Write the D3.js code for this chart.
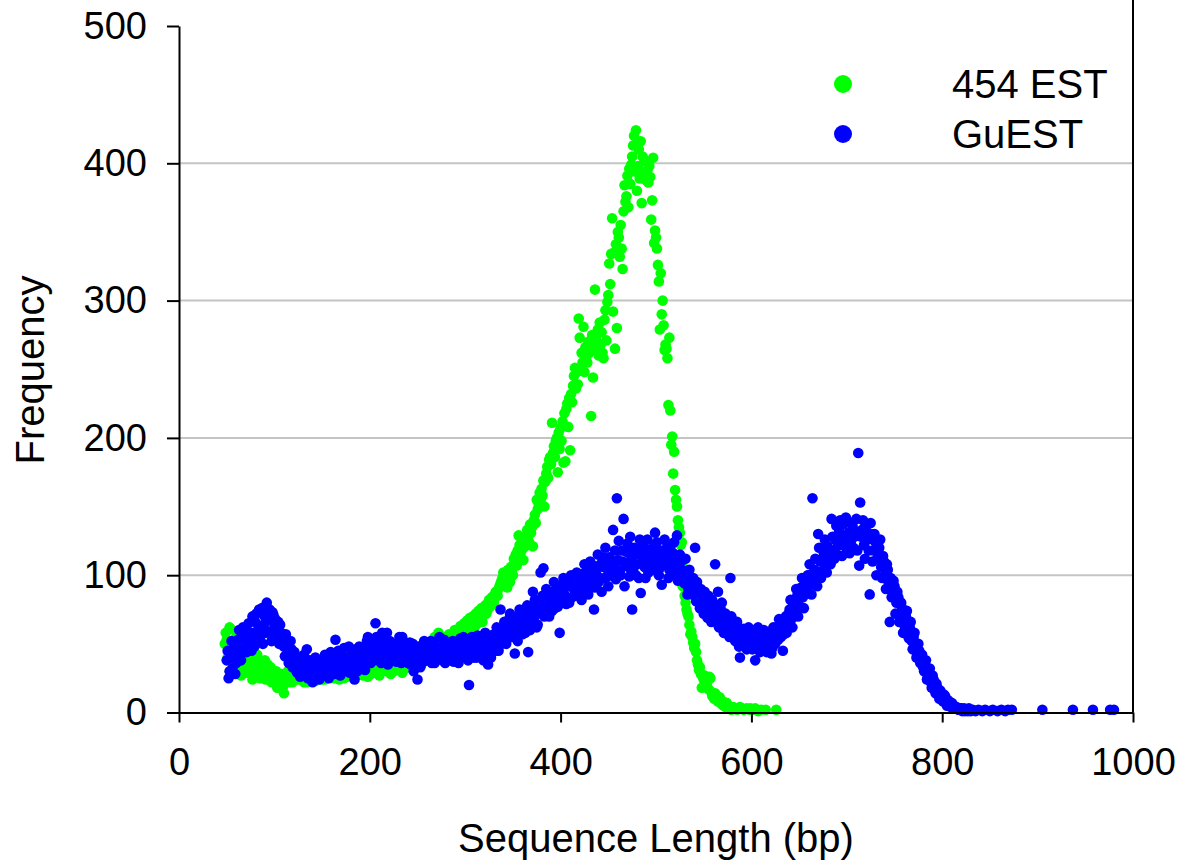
<!DOCTYPE html>
<html>
<head>
<meta charset="utf-8">
<style>
    body { margin: 0; background: #fff; }
    svg { display: block; font-family: 'Liberation Sans', Arial, sans-serif; }
</style>
</head>
<body>
<svg width="1183" height="863"></svg>

<script src="https://d3js.org/d3.v7.min.js"></script>
<script>
    // [sequence length (bp), frequency]
    const est454 = [
        [48,50],[50,53],[52,45],[54,61],[56,42],[58,38],[60,55],[62,36],[64,48],[66,33],[68,40],[70,30],[72,44],[74,35],[76,28],[78,38],
        [80,32],[82,42],[84,30],[86,36],[88,27],[90,38],[92,31],[94,25],[96,33],[98,28],[100,23],[102,30],[104,26],[106,20],[108,28],
        [110,14],[112,24],[114,30],[116,22],[118,27],[120,33],[122,25],[124,29],[126,35],[128,24],[130,31],[132,27],[134,22],[136,34],
        [138,28],[140,25],[142,32],[144,36],[146,26],[148,30],[150,24],[152,33],[154,28],[156,38],[158,27],[160,31],[162,25],[164,35],
        [166,29],[168,24],[170,33],[172,28],[174,36],[176,26],[178,31],[180,29],[182,37],[184,27],[186,32],[188,38],[190,28],[192,34],
        [194,30],[196,36],[198,26],[200,33],[202,38],[204,29],[206,35],[208,31],[210,27],[212,37],[214,32],[216,40],[218,30],[220,35],
        [222,28],[224,38],[226,33],[228,42],[230,31],[232,37],[234,29],[236,40],[238,35],[240,44],[242,33],[244,39],[246,36],[248,45],
        [250,38],[252,42],[254,35],[256,47],[258,40],[260,44],[262,38],[264,49],[266,42],[268,55],[270,46],[272,58],[274,43],[276,50],
        [278,45],[280,52],[282,47],[284,55],[286,50],[288,48],[290,57],[292,53],[294,60],[296,55],[298,62],[300,58],[302,67],[304,60],
        [306,64],[308,70],[310,62],[312,68],[314,74],[316,70],[318,66],[320,75],[322,72],[324,80],[326,77],[328,84],[330,80],[332,88],
        [334,85],[336,92],[338,96],
        [49,58],[51,40],[53,62],[55,48],[57,35],[59,44],[61,30],[63,42],[65,27],[67,36],[69,45],[71,29],[73,38],[75,32],[77,24],[79,35],
        [81,27],[83,38],[85,25],[87,33],[89,30],[91,24],[93,35],[95,28],[97,22],[99,30],[101,26],[103,18],[105,27],[107,23],[109,19],
        [111,22],[113,28],[115,25],[117,31],[119,22],[121,28],[123,32],[125,24],[127,30],[129,27],[131,22],[133,29],[135,31],[137,24],
        [139,33],[141,27],[143,23],[145,30],[147,34],[149,27],[151,29],[153,24],[155,31],[157,34],[159,26],[161,29],[163,32],[165,25],
        [167,33],[169,28],[171,30],[173,25],[175,32],[177,35],[179,27],[181,30],[183,26],[185,35],[187,29],[189,31],[191,36],[193,27],
        [195,32],[197,30],[199,37],[201,28],[203,34],[205,31],[207,38],[209,29],[211,33],[213,30],[215,36],[217,34],[219,39],[221,32],
        [223,36],[225,30],[227,35],[229,39],[231,34],[233,41],[235,36],[237,32],[239,38],[241,41],[243,36],[245,43],[247,38],[249,41],
        [251,46],[253,39],[255,43],[257,38],[259,45],[261,48],[263,42],[265,46],[267,50],[269,44],[271,52],[273,48],[275,55],[277,49],
        [279,53],[281,48],[283,57],[285,52],[287,55],[289,60],[291,54],[293,58],[295,63],[297,57],[299,65],[301,61],[303,64],[305,69],
        [307,63],[309,66],[311,72],[313,65],[315,71],[317,76],[319,72],[321,78],[323,74],[325,82],[327,79],[329,80],[331,86],[333,87],
        [335,90],[337,94],[339,98],
        [340,102],[341,97],[342,94],[343,99],[344,91],[345,104],[346,98],[347,95],[348,106],[349,102],[350,100],[351,112],[352,108],
        [353,115],[354,107],[355,118],[356,129],[357,122],[358,116],[359,124],[360,119],[361,111],[362,127],[363,121],[364,128],[365,133],
        [366,128],[367,124],[368,137],[369,131],[370,135],[371,121],[372,140],[373,144],[374,138],[375,155],[376,148],[377,152],[378,160],
        [379,154],[380,163],[381,158],[382,169],[383,150],[384,168],[385,174],[386,179],[387,171],[388,184],[389,186],[390,181],[391,211],
        [392,189],[393,194],[394,186],[395,198],[396,200],[397,175],[398,204],[399,192],[400,207],[401,198],[402,212],[403,182],[404,218],
        [405,183],[406,221],[407,225],[408,208],[409,229],[410,191],[411,232],[412,226],[413,238],[414,245],[415,251],[416,236],[417,248],
        [418,239],[419,287],[420,273],[421,249],[422,262],[423,255],[424,281],[425,248],[426,266],[427,259],[428,255],[429,270],[430,262],
        [431,269],[432,216],[433,275],[434,244],[435,268],[436,308],[437,272],[438,265],[439,279],[440,260],[441,284],[442,268],[443,277],
        [444,262],[445,258],[446,286],[447,293],[448,271],[449,299],[450,304],[451,327],[452,312],[453,334],[454,360],[455,292],[456,335],
        [457,265],[458,341],[459,280],[460,350],[461,346],[462,332],[463,355],[464,338],[465,323],[466,365],[467,384],[468,372],[469,376],
        [470,391],[471,368],[472,396],[473,385],[474,399],[475,405],[476,413],[477,420],[478,394],[479,424],[480,380],[481,398],[482,410],
        [483,389],[484,416],[485,371],[486,405],[487,393],[488,402],[489,388],[490,401],[491,395],[492,386],[493,398],[494,390],[495,359],
        [496,373],[497,404],[498,342],[499,351],[500,346],[501,338],[502,326],[503,314],[504,279],[505,320],[506,290],[507,300],[508,282],
        [509,264],[510,268],[511,265],[512,258],[513,224],[514,273],[515,220],[516,195],[517,201],[518,174],[519,190],[520,162],[521,155],
        [522,150],[523,140],[524,135],[525,131],[526,122],[527,124],[528,92],[529,105],[530,85],
        [531,80],[532,75],[533,72],[534,70],[535,64],[536,57],[537,59],[538,55],[539,51],[540,47],[541,50],[542,44],[543,38],[544,35],
        [545,31],[546,33],[547,28],[548,18],[549,26],[550,24],[551,27],[552,22],[553,20],[554,23],[555,17],[556,26],[557,25],[558,15],
        [559,12],[560,14],[561,10],[562,14],[563,12],[564,9],[565,8],[566,11],[567,11],[568,7],[569,6],[570,8],[571,5],[572,6],[573,4],
        [574,7],[575,3],[576,5],[577,3],[578,4],[579,2],[580,3],[581,4],[583,3],[585,2],[586,3],[588,4],[590,3],[592,2],[595,3],[598,2],
        [599,3],[602,2],[604,3],[607,1],[610,2],[615,2],[626,2]
    ];

    const guest = [
        [50,38],[52,25],[54,44],[56,32],[58,50],[60,36],[62,53],[64,42],[66,58],[68,47],[70,62],[72,50],[74,55],[76,45],[78,58],[80,66],
        [82,52],[84,75],[86,63],[88,50],[90,70],[92,80],[94,67],[96,59],[98,73],[100,62],[102,55],[104,66],[106,64],[108,53],[110,48],
        [112,57],[114,44],[116,40],[118,46],[120,36],[122,41],[124,29],[126,35],[128,31],[130,38],[132,27],[134,46],[136,33],[138,29],
        [140,22],[142,36],[144,30],[146,26],[148,34],[150,31],[152,38],[154,28],[156,35],[158,32],[160,40],[162,29],[164,53],[166,36],
        [168,31],[170,42],[172,35],[174,38],[176,30],[178,48],[180,37],[182,33],[184,24],[186,41],[188,36],[190,44],[192,39],[194,34],
        [196,47],[198,55],[200,40],[202,45],[204,38],[206,65],[208,43],[210,49],[212,36],[214,52],[216,41],[218,58],[220,46],[222,39],
        [224,50],[226,44],[228,37],[230,48],[232,42],[234,55],[236,40],[238,47],[240,36],[242,51],[244,43],[246,30],[248,45],[250,24],
        [252,47],[254,41],[256,37],[258,49],[260,43],[262,39],[264,52],[266,45],[268,36],[270,48],[272,41],[274,46],[276,38],[278,53],
        [280,44],[282,40],[284,49],[286,45],[288,37],[290,51],[292,43],[294,47],[296,40],[298,55],[300,45],[302,42],[304,20],[306,49],
        [308,44],[310,52],[312,40],[314,47],[316,55],[318,43],[320,50],[322,46],[324,35],[326,53],[328,48],[330,57],[332,45],[334,52],
        [336,60],[337,75],[338,50],[340,56],[342,63],[344,54],[346,68],[348,59],[350,62],[352,43],[354,58],[356,70],[358,64],[360,57],
        [362,72],[364,66],[366,44],[368,60],[370,78],[371,88],[372,69],[374,75],[376,64],[378,80],[379,102],[380,72],[382,105],[384,77],
        [386,84],[388,70],[390,82],[392,88],[394,76],[396,91],[398,85],[399,58],[400,80],[402,93],[404,86],[406,79],[408,95],[410,97],
        [412,84],[414,90],[416,99],[418,87],[420,94],[422,82],[424,101],[426,92],[428,88],[430,104],[432,96],[434,107],[435,75],[436,91],
        [438,100],[440,95],[442,108],[444,113],[446,98],[448,105],[450,92],[452,110],[454,101],[455,133],[456,106],[458,97],[459,156],
        [460,111],[462,103],[464,118],[466,141],[468,108],[470,123],[472,99],[474,112],[475,75],[476,104],[478,115],[480,108],[482,98],
        [483,126],[484,87],[486,113],[488,106],[490,119],[492,102],[494,114],[496,109],[498,121],[499,131],[500,111],[502,117],[504,105],
        [506,93],[508,113],[510,108],[511,118],[512,122],[514,104],[516,112],[518,116],[520,101],[522,129],[524,107],[526,98],[528,111],
        [530,94],[532,103],[534,90],[536,97],[538,86],[540,92],[541,120],[542,81],[544,88],[546,76],[548,84],[550,72],[552,80],[554,69],
        [556,78],[558,66],[560,74],[562,108],[564,70],[566,62],[568,75],[570,64],[572,58],[574,68],[576,60],[578,98],[580,55],[582,63],
        [584,52],[586,59],[588,40],[590,54],[592,61],[594,50],[596,57],[598,48],[600,55],[602,60],[604,38],[606,52],[608,46],[610,56],
        [612,49],[614,54],[616,44],[618,51],[620,58],[622,47],[624,55],[626,62],[628,53],[630,60],[632,67],[633,45],[634,57],[636,70],
        [638,64],[640,75],[642,68],[644,80],[646,72],[648,85],[650,78],[652,91],[654,84],[656,96],[658,88],[660,100],[662,93],[664,156],
        [666,104],[668,97],[670,130],[672,110],[674,103],[676,116],[678,108],[680,121],[682,113],[684,141],[686,118],[688,126],[690,115],
        [692,132],[694,122],[696,137],[698,127],[700,119],[702,131],[704,124],[706,136],[708,128],[710,141],[712,189],[713,107],[714,153],
        [716,133],[718,122],[720,135],[722,126],[724,86],[726,130],[728,118],[730,124],[732,112],[734,120],[736,106],[738,114],[740,100],
        [742,108],[744,94],[745,66],[746,98],[748,88],[750,92],[752,80],[754,84],[756,72],[758,76],[759,58],[760,66],[762,70],[764,60],
        [766,62],[768,52],[770,55],[772,48],[774,43],[776,45],[778,38],[780,33],[782,36],[784,24],[786,29],[788,22],[790,27],[792,19],
        [794,21],[796,14],[798,16],[800,11],[802,13],[804,8],[806,9],[808,6],[810,7],[812,5],[814,4],[816,3],[818,2],[820,3],[822,2],
        [824,1],[826,2],[828,3],[830,1],[832,2],[835,1],[838,2],[842,1],[845,2],[850,1],[853,2],[858,1],[862,2],[866,1],[869,2],[873,2],
        [905,2],[937,2],[958,2],[976,2],[980,2],
        [51,45],[53,30],[55,52],[57,40],[59,28],[61,47],[63,60],[65,38],[67,62],[69,54],[71,44],[73,65],[75,58],[77,70],[79,48],[81,72],
        [83,60],[85,55],[87,76],[89,64],[91,58],[93,71],[95,75],[97,52],[99,71],[101,68],[103,60],[105,50],[107,58],[109,53],[111,41],
        [113,50],[115,36],[117,52],[119,33],[121,44],[123,30],[125,40],[127,26],[129,35],[131,42],[133,30],[135,25],[137,38],[139,32],
        [141,28],[143,40],[145,33],[147,24],[149,37],[151,28],[153,42],[155,33],[157,25],[159,44],[161,34],[163,28],[165,38],[167,45],
        [169,27],[171,36],[173,47],[175,32],[177,40],[179,29],[181,43],[183,35],[185,46],[187,30],[189,48],[191,38],[193,42],[195,31],
        [197,52],[199,44],[201,36],[203,50],[205,42],[207,55],[209,38],[211,46],[213,58],[215,40],[217,48],[219,35],[221,52],[223,44],
        [225,38],[227,50],[229,42],[231,55],[233,36],[235,47],[237,51],[239,40],[241,46],[243,35],[245,50],[247,42],[249,38],[251,48],
        [253,33],[255,45],[257,52],[259,38],[261,47],[263,42],[265,36],[267,50],[269,44],[271,39],[273,55],[275,42],[277,48],[279,36],
        [281,50],[283,45],[285,38],[287,52],[289,43],[291,47],[293,36],[295,54],[297,45],[299,41],[301,50],[303,38],[305,47],[307,55],
        [309,40],[311,48],[313,56],[315,42],[317,50],[319,38],[321,58],[323,44],[325,52],[327,40],[329,56],[331,48],[333,62],[335,45],
        [339,58],[341,66],[343,50],[345,60],[347,72],[349,55],[351,64],[353,68],[355,52],[357,75],[359,62],[361,68],[363,58],[365,78],
        [367,65],[369,72],[373,82],[375,62],[377,74],[381,85],[383,70],[385,90],[387,78],[389,86],[391,74],[393,95],[395,82],[397,77],
        [401,89],[403,98],[405,84],[407,92],[409,80],[411,100],[413,91],[415,85],[417,102],[419,93],[421,88],[423,99],[425,108],[427,95],
        [429,86],[431,110],[433,100],[437,104],[439,115],[441,98],[443,88],[445,106],[447,120],[449,99],[451,113],[453,104],[457,118],
        [461,125],[463,100],[465,110],[467,92],[469,117],[471,106],[473,128],[477,120],[479,100],[481,116],[485,122],[487,110],[489,98],
        [491,126],[493,112],[495,118],[497,104],[501,124],[503,100],[505,118],[507,110],[509,126],[513,98],[515,120],[517,106],[519,124],
        [521,112],[523,96],[525,115],[527,104],[529,100],[531,112],[533,86],[535,104],[537,92],[539,98],[543,95],[545,82],[547,90],
        [549,78],[551,88],[553,74],[555,85],[557,70],[559,82],[561,68],[563,78],[565,88],[567,66],[569,80],[571,58],[573,72],[575,64],
        [577,55],[579,70],[581,60],[583,52],[585,66],[587,48],[589,60],[591,50],[593,58],[595,46],[597,62],[599,52],[601,46],[603,58],
        [605,50],[607,62],[609,44],[611,53],[613,60],[615,48],[617,57],[619,50],[621,43],[623,62],[625,50],[627,58],[629,68],[631,55],
        [635,63],[637,58],[639,72],[641,82],[643,62],[645,74],[647,90],[649,70],[651,84],[653,98],[655,76],[657,92],[659,100],[661,108],
        [663,86],[665,100],[667,112],[669,92],[671,120],[673,98],[675,112],[677,126],[679,102],[681,118],[683,108],[685,128],[687,112],
        [689,136],[691,122],[693,140],[695,114],[697,128],[699,142],[701,125],[703,116],[705,138],[707,120],[709,132],[711,118],[715,128],
        [717,140],[719,112],[721,130],[723,118],[725,138],[727,110],[729,130],[731,100],[733,116],[735,126],[737,98],[739,110],[741,90],
        [743,104],[747,84],[749,96],[751,72],[753,88],[755,66],[757,80],[761,62],[763,74],[765,54],[767,66],[769,46],[771,58],[773,40],
        [775,50],[777,36],[779,42],[781,30],[783,38],[785,26],[787,32],[789,18],[791,24],[793,14],[795,18],[797,10],[799,14],[801,8],
        [803,12],[805,5],[807,8],[809,4],[811,6],[813,3],[815,4],[817,2],[819,3],[821,1],[823,3],[825,2],[827,1]
    ];

    const seriesNames = ["454 EST", "GuEST"];
    const seriesColors = ["#00ff00", "#0000ff"];
    const xTicks = [0, 200, 400, 600, 800, 1000];
    const yTicks = [0, 100, 200, 300, 400, 500];
    const gridValues = [100, 200, 300, 400];

    let svg = d3.select("svg");

    let x = d3.scaleLinear().domain([0, 1000]).range([179, 1133]);
    let y = d3.scaleLinear().domain([0, 500]).range([712.5, 26]);

    // gridlines
    svg.selectAll(".grid")
        .data(gridValues)
        .join("line")
        .attr("x1", x(0))
        .attr("x2", x(1000))
        .attr("y1", d => y(d))
        .attr("y2", d => y(d))
        .style("stroke", "#c4c4c4")
        .style("stroke-width", 2)

    // right border of plot area
    svg.append("line")
        .attr("x1", x(1000)).attr("x2", x(1000))
        .attr("y1", 0).attr("y2", y(0))
        .style("stroke", "#000")
        .style("stroke-width", 2)

    let series = [est454, guest]

    series.forEach((data, i) => {
        svg.append("g")
            .selectAll("circle")
            .data(data)
            .join("circle")
            .attr("cx", d => x(d[0]))
            .attr("cy", d => y(d[1]))
            .attr("r", 5.3)
            .style("fill", seriesColors[i])
    })

    // axes
    let yAxis = svg.append("g")
        .attr("transform", "translate(" + x(0) + ",0)")
        .call(d3.axisLeft(y).tickValues(yTicks).tickSize(12).tickSizeOuter(0).tickPadding(20))

    let xAxis = svg.append("g")
        .attr("transform", "translate(0," + y(0) + ")")
        .call(d3.axisBottom(x).tickValues(xTicks).tickFormat(d3.format("d")).tickSize(10).tickSizeOuter(0).tickPadding(26))

    svg.selectAll(".domain, .tick line")
        .style("stroke", "#000")
        .style("stroke-width", 2)

    svg.selectAll(".tick text")
        .style("font-size", "38px")
        .style("font-family", "'Liberation Sans', Arial, sans-serif")
        .style("fill", "#000")

    // axis titles
    svg.append("text")
        .attr("x", 656)
        .attr("y", 852)
        .attr("text-anchor", "middle")
        .style("font-size", "40px")
        .text("Sequence Length (bp)")

    svg.append("text")
        .attr("transform", "translate(44,370) rotate(-90)")
        .attr("text-anchor", "middle")
        .style("font-size", "40px")
        .text("Frequency")

    // legend
    let legend = svg.append("g")
        .selectAll("g")
        .data(seriesNames)
        .join("g")
        .attr("transform", (d, i) => "translate(843," + (84 + i * 50) + ")")

    legend.append("circle")
        .attr("r", 9)
        .style("fill", (d, i) => seriesColors[i])

    legend.append("text")
        .attr("x", 109)
        .attr("dy", "0.36em")
        .style("font-size", "40px")
        .text(d => d)
</script>
</body>
</html>
